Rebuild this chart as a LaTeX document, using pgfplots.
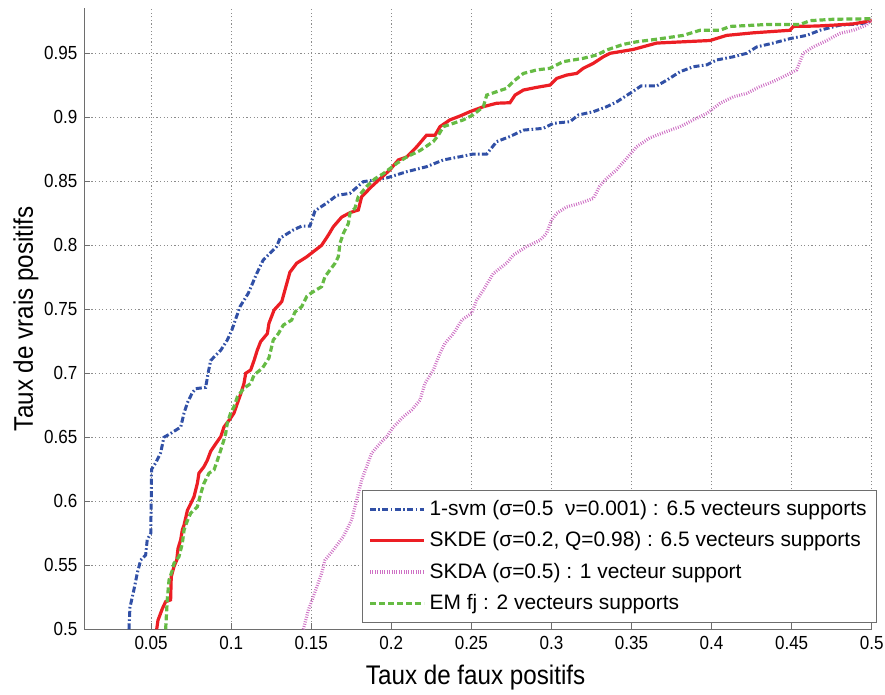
\documentclass[border=0pt]{standalone}
\usepackage{fontspec}
\setmainfont{Liberation Sans}
\newfontfamily\narrow[FakeStretch=0.9]{Liberation Sans}
\usepackage{pgfplots}
\pgfplotsset{compat=1.18}
\definecolor{cblue}{RGB}{49,80,166}
\definecolor{cred}{RGB}{236,30,36}
\definecolor{cgreen}{RGB}{102,187,68}
\definecolor{cpink}{RGB}{206,112,196}
\definecolor{cgrid}{RGB}{140,140,140}
\definecolor{caxis}{RGB}{110,110,110}
\begin{document}
\begin{tikzpicture}
\begin{axis}[
  name=ax,
  scale only axis,
  width=393.7bp, height=310.65bp,
  xmin=0.0083, xmax=0.5, ymin=0.5, ymax=0.9854,
  axis x line*=bottom, axis y line*=left,
  axis line style={caxis, line width=0.6bp, -},
  xtick={0.05,0.1,0.15,0.2,0.25,0.3,0.35,0.4,0.45,0.5},
  ytick={0.5,0.55,0.6,0.65,0.7,0.75,0.8,0.85,0.9,0.95},
  xticklabel={\pgfmathprintnumber[fixed,precision=2]{\tick}},
  yticklabel={\pgfmathprintnumber[fixed,precision=2]{\tick}},
  /pgf/number format/assume math mode=true,
  ticklabel style={font=\narrow\fontsize{9.5}{11}\selectfont, text=black},
  tick align=inside,
  major tick length=3bp,
  tick style={caxis, line width=0.5bp},
  grid=major,
  major grid style={cgrid, line width=0.45bp, dash pattern=on 0.6bp off 1.2bp},
  xlabel={Taux de faux positifs},
  ylabel={Taux de vrais positifs},
  every axis x label/.style={at={(axis description cs:0.497,-0.078)}, anchor=center, font=\narrow\fontsize{13.5}{15}\selectfont},
  every axis y label/.style={at={(axis description cs:-0.074,0.5)}, rotate=90, anchor=center, font=\narrow\fontsize{13.5}{15}\selectfont},
  legend style={at={(axis description cs:1.0068,0.0101)}, anchor=south east,
    font=\fontsize{10.5}{12}\selectfont, draw=caxis, line width=0.5bp,
    inner xsep=3bp, inner ysep=3bp, row sep=2.65bp, fill=white},
  legend cell align=left,
  legend image code/.code={\draw[#1] (0bp,0bp) -- (27bp,0bp);},
]
\addplot[cblue, line width=1.5bp, dash pattern=on 3bp off 1.2bp on 0.8bp off 1.2bp] coordinates {
(0.0362,0.500)(0.0368,0.517)(0.0393,0.531)(0.0414,0.544)(0.0435,0.554)(0.0466,0.558)(0.0476,0.570)(0.0498,0.575)(0.0501,0.601)(0.0503,0.625)(0.0529,0.630)(0.056,0.638)(0.058,0.650)(0.0622,0.653)(0.0685,0.658)(0.0706,0.669)(0.0727,0.677)(0.0758,0.685)(0.0779,0.688)(0.0841,0.689)(0.0856,0.700)(0.0872,0.710)(0.0935,0.718)(0.0976,0.726)(0.1005,0.734)(0.1055,0.752)(0.1107,0.7625)(0.116,0.778)(0.120,0.7885)(0.1284,0.799)(0.1305,0.8055)(0.1388,0.812)(0.144,0.815)(0.1492,0.815)(0.1524,0.827)(0.1597,0.833)(0.1660,0.839)(0.1742,0.8406)(0.1825,0.8497)(0.1970,0.8526)(0.2096,0.8575)(0.222,0.8614)(0.2325,0.8667)(0.2429,0.8692)(0.2512,0.8713)(0.2596,0.8713)(0.2658,0.881)(0.2741,0.885)(0.2825,0.890)(0.295,0.8914)(0.3012,0.8953)(0.3116,0.8966)(0.3168,0.9018)(0.3262,0.9044)(0.3345,0.9083)(0.3407,0.912)(0.3490,0.9187)(0.3560,0.9245)(0.3657,0.9245)(0.372,0.929)(0.3803,0.9356)(0.3886,0.9395)(0.397,0.941)(0.4032,0.9448)(0.4136,0.9473)(0.4219,0.950)(0.4282,0.955)(0.4385,0.958)(0.449,0.9615)(0.4594,0.964)(0.4677,0.968)(0.480,0.972)(0.4926,0.973)(0.500,0.975)
};
\addlegendentry{1-svm (σ=0.5\ \ ν=0.001) : 6.5 vecteurs supports}
\addplot[cred, line width=1.6bp] coordinates {
(0.0535,0.500)(0.0543,0.507)(0.0570,0.516)(0.0591,0.5216)(0.0622,0.523)(0.0626,0.541)(0.0643,0.549)(0.0660,0.554)(0.0668,0.563)(0.0685,0.570)(0.0695,0.5776)(0.0706,0.5815)(0.0727,0.593)(0.0747,0.598)(0.0768,0.6036)(0.0789,0.614)(0.0799,0.622)(0.0830,0.627)(0.0851,0.632)(0.0872,0.639)(0.0904,0.645)(0.0935,0.6505)(0.0955,0.658)(0.0997,0.665)(0.1018,0.669)(0.1039,0.6766)(0.106,0.684)(0.108,0.692)(0.1091,0.700)(0.1122,0.7026)(0.1143,0.710)(0.1163,0.718)(0.1184,0.7247)(0.1226,0.731)(0.1236,0.739)(0.1268,0.7494)(0.1316,0.756)(0.1347,0.770)(0.1367,0.779)(0.1409,0.786)(0.1472,0.791)(0.1513,0.795)(0.1565,0.800)(0.1607,0.808)(0.1638,0.8145)(0.169,0.822)(0.1742,0.8255)(0.1794,0.8276)(0.1815,0.838)(0.1878,0.846)(0.193,0.852)(0.1992,0.859)(0.2044,0.8667)(0.2096,0.869)(0.2159,0.877)(0.222,0.886)(0.2273,0.886)(0.2304,0.8927)(0.2366,0.898)(0.2429,0.901)(0.2491,0.9044)(0.2575,0.9083)(0.2658,0.911)(0.2741,0.9114)(0.2773,0.9174)(0.2825,0.9213)(0.2908,0.9234)(0.2991,0.9252)(0.3033,0.9304)(0.3095,0.933)(0.3158,0.9343)(0.3199,0.9383)(0.3262,0.9422)(0.3324,0.9473)(0.3366,0.950)(0.351,0.953)(0.3657,0.958)(0.3823,0.959)(0.399,0.960)(0.4094,0.964)(0.426,0.966)(0.449,0.968)(0.451,0.971)(0.4656,0.9713)(0.476,0.972)(0.4885,0.973)(0.500,0.9755)
};
\addlegendentry{SKDE (σ=0.2, Q=0.98) : 6.5 vecteurs supports}
\addplot[cpink, line width=1.6bp, dash pattern=on 0.45bp off 0.75bp] coordinates {
(0.1451,0.500)(0.1482,0.515)(0.1513,0.5255)(0.1565,0.5437)(0.1586,0.554)(0.1638,0.562)(0.17,0.5723)(0.1752,0.5854)(0.1784,0.601)(0.1815,0.6166)(0.1846,0.627)(0.1877,0.6375)(0.193,0.6453)(0.1971,0.6505)(0.2013,0.658)(0.2075,0.666)(0.2127,0.6713)(0.2179,0.679)(0.221,0.692)(0.2263,0.7026)(0.2304,0.7156)(0.2335,0.7234)(0.2388,0.731)(0.244,0.7416)(0.2502,0.747)(0.2533,0.757)(0.2575,0.765)(0.2637,0.778)(0.272,0.786)(0.2762,0.7924)(0.2845,0.799)(0.2929,0.804)(0.297,0.8094)(0.3001,0.8198)(0.3033,0.825)(0.3095,0.830)(0.3178,0.8328)(0.3262,0.8367)(0.330,0.846)(0.3334,0.851)(0.3407,0.859)(0.347,0.868)(0.3532,0.877)(0.3615,0.884)(0.372,0.889)(0.3803,0.8927)(0.3886,0.898)(0.397,0.903)(0.4053,0.911)(0.4136,0.916)(0.4219,0.9187)(0.4302,0.924)(0.4386,0.928)(0.4469,0.933)(0.4531,0.937)(0.4573,0.950)(0.4635,0.955)(0.4719,0.960)(0.4802,0.9656)(0.4885,0.968)(0.4968,0.972)(0.500,0.977)
};
\addlegendentry{SKDA (σ=0.5) : 1 vecteur support}
\addplot[cgreen, line width=1.6bp, dash pattern=on 3bp off 1.5bp] coordinates {
(0.0591,0.500)(0.0601,0.523)(0.0612,0.5385)(0.0633,0.5463)(0.0643,0.5515)(0.0674,0.5567)(0.0695,0.567)(0.0706,0.5776)(0.0727,0.585)(0.0747,0.5906)(0.0789,0.5958)(0.081,0.606)(0.083,0.614)(0.0862,0.622)(0.0893,0.6245)(0.0914,0.632)(0.0935,0.640)(0.0955,0.648)(0.0966,0.653)(0.0976,0.661)(0.0997,0.669)(0.1018,0.674)(0.1039,0.6817)(0.108,0.6883)(0.1122,0.692)(0.1143,0.6987)(0.1195,0.704)(0.1236,0.712)(0.1263,0.726)(0.1295,0.731)(0.1326,0.7377)(0.1378,0.7416)(0.1399,0.748)(0.144,0.752)(0.1472,0.760)(0.1503,0.763)(0.1565,0.7677)(0.1586,0.7755)(0.1617,0.7807)(0.1649,0.786)(0.1669,0.791)(0.168,0.8016)(0.1701,0.8094)(0.1732,0.817)(0.1742,0.825)(0.1773,0.829)(0.1794,0.838)(0.1846,0.846)(0.1898,0.852)(0.195,0.856)(0.2034,0.864)(0.2096,0.869)(0.2179,0.874)(0.2262,0.881)(0.2294,0.886)(0.2325,0.8927)(0.2387,0.8953)(0.245,0.898)(0.2512,0.902)(0.2575,0.9083)(0.2596,0.9174)(0.2658,0.920)(0.2721,0.9227)(0.2762,0.928)(0.2825,0.9343)(0.2908,0.937)(0.2991,0.9383)(0.3074,0.9435)(0.3199,0.9461)(0.3283,0.9487)(0.3345,0.9526)(0.3449,0.957)(0.3532,0.959)(0.3657,0.961)(0.3823,0.964)(0.3928,0.968)(0.4052,0.968)(0.4115,0.971)(0.4344,0.9725)(0.4552,0.9725)(0.4615,0.9755)(0.476,0.9766)(0.500,0.977)
};
\addlegendentry{EM fj : 2 vecteurs supports}
\end{axis}
\pgfresetboundingbox
\path ([xshift=-42.15bp,yshift=-32.85bp]ax.south west) rectangle ([xshift=6.65bp,yshift=4bp]ax.north east);
\end{tikzpicture}
\end{document}
